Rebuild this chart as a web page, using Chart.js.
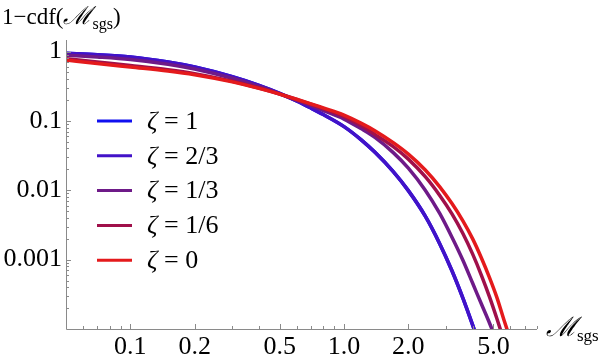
<!DOCTYPE html>
<html><head><meta charset="utf-8">
<script src="https://cdn.jsdelivr.net/npm/chart.js@4.4.1/dist/chart.umd.min.js"></script>
<style>html,body{margin:0;padding:0;background:#fff}#wrap{width:600px;height:360px}</style>
</head><body><div id="wrap"><canvas id="c" width="600" height="360"></canvas></div>
<script>
// ---- data ----
const mach = [0.05,0.07,0.1,0.15,0.2,0.3,0.4,0.5,0.6,0.7,0.8,1.0,1.2,1.4,1.7,2.0,2.4,2.8,3.2,3.6,4.0,4.4,4.8,5.2,5.6,6.0];
const zeta1   = [0.942,0.899,0.833,0.705,0.597,0.433,0.325,0.249,0.1937,0.153,0.1233,0.0827,0.0537,0.0349,0.01855,0.00987,0.00423,0.001713,0.000692,0.000279,0.0001138,0.0000483,null,null,null,null];
const zeta2_3 = [0.942,0.899,0.833,0.705,0.597,0.433,0.325,0.249,0.1937,0.153,0.1233,0.0827,0.0537,0.0349,0.01855,0.00987,0.00423,0.001713,0.000692,0.000279,0.0001138,0.0000483,null,null,null,null];
const zeta1_3 = [0.884,0.833,0.767,0.656,0.559,0.411,0.313,0.245,0.1976,0.1663,0.1408,0.1062,0.0774,0.0574,0.0349,0.02084,0.01003,0.00467,0.002105,0.00098,0.000456,0.000227,0.000121,0.0000643,null,null];
const zeta1_6 = [0.787,0.705,0.628,0.546,0.480,0.3727,0.2973,0.2444,0.2043,0.1736,0.1505,0.1153,0.0855,0.0634,0.0426,0.0281,0.01571,0.0085,0.00457,0.00238,0.0012,0.00059,0.000288,0.0001394,0.0000685,null];
const zeta0   = [0.754,0.671,0.597,0.523,0.4626,0.3654,0.2944,0.2435,0.205,0.1759,0.154,0.1213,0.0929,0.0717,0.0486,0.0332,0.01963,0.01131,0.00643,0.00362,0.00199,0.001047,0.000546,0.000281,0.0001358,0.000071];
const zetaNames = ['1','2/3','1/3','1/6','0'];
const seriesList = [zeta1, zeta2_3, zeta1_3, zeta1_6, zeta0];
const colors = ['#1010f0','#4212c8','#6e1a88','#a0104a','#e41a1c'];

const xTickValues = [0.1,0.2,0.5,1.0,2.0,5.0];
const xTickLabels = ['0.1','0.2','0.5','1.0','2.0','5.0'];
const xMinorTicks = [0.06,0.07,0.08,0.09,0.3,0.4,0.6,0.7,0.8,0.9,3,4,6,7,8];
const yTickValues = [0.001,0.01,0.1,1];
const yTickLabels = ['0.001','0.01','0.1','1'];
const yMinorTicks = [0.0002,0.0003,0.0004,0.0005,0.0006,0.0007,0.0008,0.0009,
  0.002,0.003,0.004,0.005,0.006,0.007,0.008,0.009,
  0.02,0.03,0.04,0.05,0.06,0.07,0.08,0.09,
  0.2,0.3,0.4,0.5,0.6,0.7,0.8,0.9];

const SERIF = '"Liberation Serif","Times New Roman","DejaVu Serif",serif';
const axisColor = '#8a8a8a';

const datasets = seriesList.map((arr, i) => ({
  label: 'ζ = ' + zetaNames[i],
  data: mach.map((x, j) => ({x: x, y: arr[j]})),
  borderColor: colors[i],
  backgroundColor: colors[i],
  borderWidth: 3.5,
  pointRadius: 0,
  fill: false,
  cubicInterpolationMode: 'monotone',
  order: seriesList.length - 1 - i
}));

const deco = {
  id: 'deco',
  afterDraw(chart) {
    const {ctx, chartArea: a, scales: {x, y}} = chart;
    ctx.save();
    ctx.strokeStyle = axisColor;
    ctx.lineWidth = 1;
    ctx.beginPath();
    ctx.moveTo(a.left + 0.5, a.top);
    ctx.lineTo(a.left + 0.5, a.bottom + 0.5);
    ctx.lineTo(a.right, a.bottom + 0.5);
    ctx.stroke();
    const tick = (px, py, dx, dy) => { ctx.beginPath(); ctx.moveTo(px, py); ctx.lineTo(px + dx, py + dy); ctx.stroke(); };
    xTickValues.forEach(v => tick(Math.round(x.getPixelForValue(v)) + 0.5, a.bottom, 0, -5));
    xMinorTicks.forEach(v => tick(Math.round(x.getPixelForValue(v)) + 0.5, a.bottom, 0, -3));
    yTickValues.forEach(v => tick(a.left, Math.round(y.getPixelForValue(v)) + 0.5, 5, 0));
    yMinorTicks.forEach(v => tick(a.left, Math.round(y.getPixelForValue(v)) + 0.5, 3, 0));

    // legend
    ctx.textBaseline = 'middle';
    chart.data.datasets.forEach((ds, i) => {
      const cy = 121 + i * 34.8;
      ctx.strokeStyle = ds.borderColor;
      ctx.lineWidth = 3;
      ctx.beginPath(); ctx.moveTo(97, cy); ctx.lineTo(132, cy); ctx.stroke();
      ctx.fillStyle = '#000';
      ctx.font = 'italic 26px ' + SERIF;
      ctx.fillText('ζ', 147, cy + 1);
      const w = ctx.measureText('ζ').width;
      ctx.font = '26px ' + SERIF;
      ctx.fillText(' = ' + zetaNames[i], 147 + w, cy + 1);
    });

    // axis titles
    ctx.textBaseline = 'alphabetic';
    ctx.fillStyle = '#000';
    let tx = 2;
    ctx.font = '23px ' + SERIF;
    ctx.fillText('1−cdf(', tx, 24); tx += ctx.measureText('1−cdf(').width;
    ctx.font = 'italic 25px ' + SERIF;
    ctx.fillText('ℳ', tx, 24); tx += ctx.measureText('ℳ').width;
    ctx.font = '16px ' + SERIF;
    ctx.fillText('sgs', tx, 29); tx += ctx.measureText('sgs').width;
    ctx.font = '23px ' + SERIF;
    ctx.fillText(')', tx, 24);

    let bx = a.right + 9;
    ctx.font = 'italic 27px ' + SERIF;
    ctx.fillText('ℳ', bx, a.bottom + 7); bx += ctx.measureText('ℳ').width;
    ctx.font = '17px ' + SERIF;
    ctx.fillText('sgs', bx, a.bottom + 12);
    ctx.restore();
  }
};

new Chart(document.getElementById('c'), {
  type: 'line',
  data: {datasets},
  options: {
    responsive: false,
    animation: false,
    devicePixelRatio: 1,
    layout: {padding: {top: 40, right: 63, left: 0, bottom: 0}},
    plugins: {legend: {display: false}, tooltip: {enabled: false}},
    elements: {point: {radius: 0}},
    scales: {
      x: {
        type: 'logarithmic', min: 0.05, max: 8,
        grid: {display: false, drawTicks: false},
        border: {display: false},
        afterFit(s) { s.height = 31; },
        afterBuildTicks(s) { s.ticks = xTickValues.map(v => ({value: v})); },
        ticks: {autoSkip: false, maxRotation: 0, padding: 3, color: '#000',
          font: {family: SERIF, size: 26},
          callback: (v, i) => xTickLabels[i]}
      },
      y: {
        type: 'logarithmic', min: 0.0001, max: 1.465,
        grid: {display: false, drawTicks: false},
        border: {display: false},
        afterFit(s) { s.width = 66; },
        afterBuildTicks(s) { s.ticks = yTickValues.map(v => ({value: v})); },
        ticks: {autoSkip: false, padding: 4, color: '#000',
          font: {family: SERIF, size: 26},
          callback: (v, i) => yTickLabels[i]}
      }
    }
  },
  plugins: [deco]
});
</script></body></html>
